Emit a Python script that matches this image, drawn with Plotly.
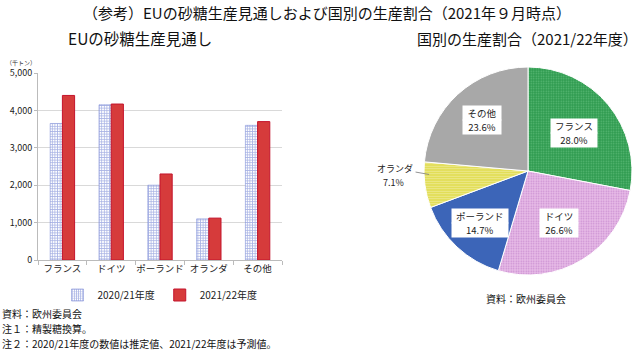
import math
import plotly.graph_objects as go

categories = ["フランス", "ドイツ", "ポーランド", "オランダ", "その他"]
prod_2020 = [3650, 4150, 2000, 1100, 3600]
prod_2021 = [4400, 4170, 2300, 1120, 3700]
series_names = ["2020/21年度", "2021/22年度"]
y_ticks = [0, 1000, 2000, 3000, 4000, 5000]
y_tick_labels = ["0", "1,000", "2,000", "3,000", "4,000", "5,000"]

pie_labels = ["フランス", "ドイツ", "ポーランド", "オランダ", "その他"]
pie_shares = [28.0, 26.6, 14.7, 7.1, 23.6]
pie_colors = ["#2f9b50", "#e8bce8", "#3c65b8", "#e2de58", "#a8a8a8"]
pie_pattern_fg = ["#5dbb77", "#c88cd0", "#3c65b8", "#eeeb98", "#a8a8a8"]
pie_pattern_shape = [".", ".", "", "-", ""]

FONT = "Noto Sans CJK JP"
W, H = 640, 354

fig = go.Figure()
fig.add_trace(go.Bar(
    x=categories, y=prod_2020, name=series_names[0],
    marker=dict(color="white", line=dict(color="#7f8fd6", width=0.6),
                pattern=dict(shape="+", fgcolor="#4f63c8", bgcolor="#ffffff",
                             size=2.6, solidity=0.5)),
    xaxis="x", yaxis="y"))
fig.add_trace(go.Bar(
    x=categories, y=prod_2021, name=series_names[1],
    marker=dict(color="#d63b3b", line=dict(color="#c4142c", width=1)),
    xaxis="x", yaxis="y"))

pie_dom_x = [424 / W, 632 / W]
pie_dom_y = [1 - 275 / H, 1 - 67 / H]
fig.add_trace(go.Pie(
    labels=pie_labels, values=pie_shares, sort=False, direction="clockwise",
    rotation=0, textinfo="none", hoverinfo="label+percent", showlegend=False,
    domain=dict(x=pie_dom_x, y=pie_dom_y),
    marker=dict(colors=pie_colors, line=dict(color="white", width=1),
                pattern=dict(shape=pie_pattern_shape, fgcolor=pie_pattern_fg,
                             bgcolor=pie_colors, size=2.5, solidity=0.3,
                             fillmode="replace"))))

def txt(x, y, text, size, xanchor="center", color="#111"):
    return dict(x=x, y=y, xref="paper", yref="paper", showarrow=False,
                xanchor=xanchor, yanchor="middle", text=text,
                font=dict(family=FONT, size=size, color=color))

annotations = []
cx = (pie_dom_x[0] + pie_dom_x[1]) / 2
cy = (pie_dom_y[0] + pie_dom_y[1]) / 2
R = 104
total = sum(pie_shares)
cum = 0
radial = [0.58, 0.58, 0.68, None, 0.66]
for lab, v, rf in zip(pie_labels, pie_shares, radial):
    mid = (cum + v / 2) / total * 2 * math.pi
    cum += v
    sx, sy = math.sin(mid), math.cos(mid)
    pct = f"{v:.1f}%"
    if rf is not None:
        px = cx + rf * R * sx / W
        py = cy + rf * R * sy / H
        bw = max(len(lab) * 9.5, 30) + 8
        for t, dy in ((lab, 7), (pct, -7)):
            a = txt(px, py + dy / H, t, 9.5, color="#222")
            a.update(bgcolor="white", borderpad=0, width=bw, height=14)
            annotations.append(a)
    else:
        ex = cx + 0.96 * R * sx / W
        ey = cy + 0.96 * R * sy / H + 10 / H
        annotations.append(dict(
            x=ex, y=ey, xref="paper", yref="paper", xanchor="center", yanchor="middle",
            ax=-34, ay=-6, text=lab, showarrow=True, arrowhead=0, arrowwidth=0.8,
            arrowcolor="#777", standoff=0, startstandoff=1, yshift=0,
            font=dict(family=FONT, size=9, color="#222")))
        annotations.append(txt(ex - 36 / W, ey - 8 / H, pct, 9, color="#222"))

annotations += [
    txt(327 / W, 1 - 12 / H, "（参考）EUの砂糖生産見通しおよび国別の生産割合（2021年９月時点）", 15),
    txt(140 / W, 1 - 38 / H, "EUの砂糖生産見通し", 15.5),
    txt(527 / W, 1 - 38 / H, "国別の生産割合（2021/22年度）", 15),
    txt(4 / W, 1 - 62 / H, "（千トン）", 6, xanchor="left", color="#333"),
    txt(526 / W, 1 - 298 / H, "資料：欧州委員会", 10),
    txt(0, 1 - 313 / H, "資料：欧州委員会", 10, xanchor="left"),
    txt(0, 1 - 328 / H, "注１：精製糖換算。", 10, xanchor="left"),
    txt(0, 1 - 343 / H, "注２：2020/21年度の数値は推定値、2021/22年度は予測値。", 10, xanchor="left"),
]

fig.update_layout(
    width=W, height=H, margin=dict(l=0, r=0, t=0, b=0),
    paper_bgcolor="white", plot_bgcolor="white",
    font=dict(family=FONT, size=10, color="#222"),
    barmode="group", bargap=0.5, bargroupgap=0.0,
    xaxis=dict(domain=[38 / W, 282 / W], showline=True, linecolor="#bbbbbb", linewidth=1,
               ticks="outside", tickson="boundaries", ticklen=4, tickcolor="#bbbbbb",
               tickangle=0, automargin=False,
               tickfont=dict(family=FONT, size=9.5, color="#222"), anchor="y"),
    yaxis=dict(domain=[1 - 260 / H, 1 - 73 / H], range=[0, 5000], tickvals=y_ticks,
               ticktext=y_tick_labels, showline=True, linecolor="#bbbbbb", linewidth=1,
               ticks="outside", ticklen=3, tickcolor="#bbbbbb", gridcolor="#d9d9d9",
               automargin=False,
               tickfont=dict(family=FONT, size=9, color="#222"), zeroline=False, anchor="x"),
    legend=dict(orientation="h", x=160 / W, xanchor="center", y=1 - 295 / H, yanchor="middle",
                font=dict(family=FONT, size=10, color="#222"),
                bgcolor="rgba(0,0,0,0)"),
    annotations=annotations,
)

fig.write_html("out.html")
